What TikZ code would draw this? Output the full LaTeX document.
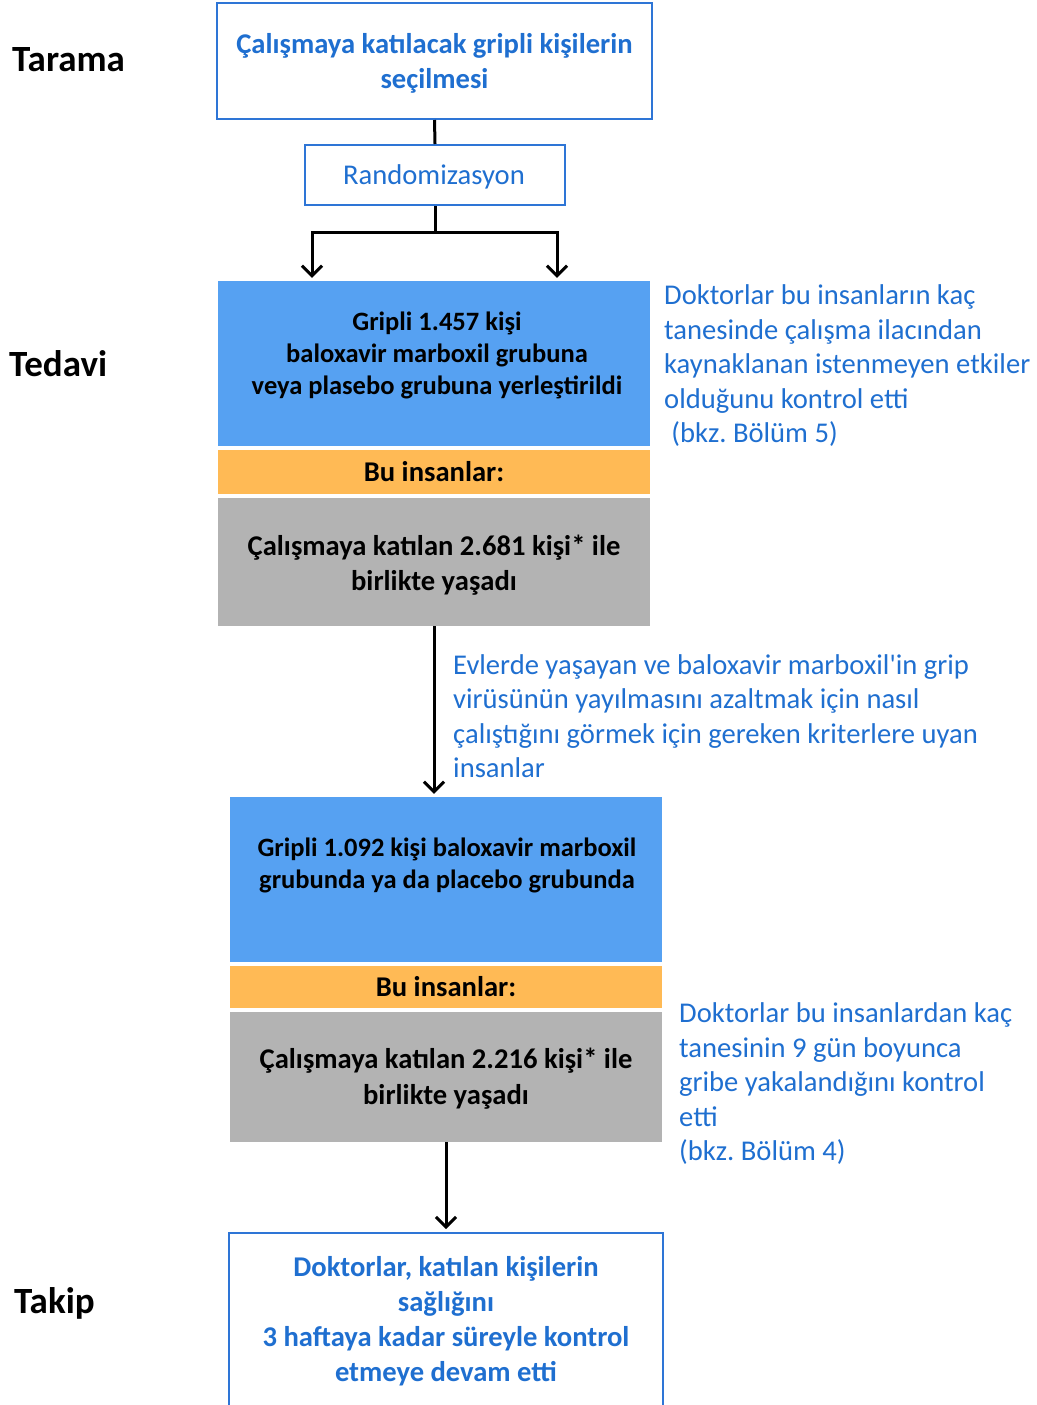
\documentclass[tikz,border=0pt]{standalone}
\usepackage{fontspec}
\setmainfont{Carlito}[Ligatures=TeXOff]
\usetikzlibrary{arrows.meta}
\definecolor{bluetxt}{HTML}{1F6FD0}
\definecolor{blueline}{HTML}{2E75D6}
\definecolor{bluefill}{HTML}{56A1F2}
\definecolor{orangefill}{HTML}{FFBA55}
\definecolor{grayfill}{HTML}{B3B3B3}
\frenchspacing
\begin{document}
\begin{tikzpicture}[x=1pt,y=-1pt,
  obox/.style={draw=blueline, line width=2pt, fill=white, inner sep=0pt},
  fbox/.style={draw=none, inner sep=0pt},
  ttxt/.style={inner sep=0pt, align=center},
  btxt/.style={ttxt, font=\fontsize{26.5}{32}\selectfont\bfseries},
  lbl/.style={inner sep=0pt, anchor=west, font=\fontsize{37}{44}\selectfont\bfseries},
  note/.style={inner sep=0pt, anchor=west, align=left, text=bluetxt, font=\fontsize{28.6}{34.5}\selectfont},
  conn/.style={line width=3pt, black},
  arr/.style={conn, -{Straight Barb[length=10pt,width=20pt,line width=3pt]}, shorten >=3pt}]
\useasboundingbox (0,0) rectangle (1036,1405);
% phase labels
\node[lbl] (tarama) at (12,60) {Tarama};
\node[lbl] (tedavi) at (9,364) {Tedavi};
\node[lbl] (takip) at (14,1303) {Takip};
% top boxes
\node[obox, minimum width=435pt, minimum height=116pt] (scr) at (434.5,61) {};
\node[ttxt, text=bluetxt, font=\fontsize{28.6}{35}\selectfont\bfseries] (scrt) at (434.5,63) {Çalışmaya katılacak gripli kişilerin\\seçilmesi};
\node[obox, minimum width=260pt, minimum height=60pt] (rand) at (435,175) {};
\node[ttxt, text=bluetxt, font=\fontsize{28.6}{35}\selectfont] (randt) at (434,177) {Randomizasyon};
% first group
\node[fbox, fill=bluefill, minimum width=432pt, minimum height=165pt] (b1) at (434,363.5) {};
\node[btxt] (t1) at (437,355) {Gripli 1.457 kişi\\baloxavir marboxil grubuna\\veya plasebo grubuna yerleştirildi};
\node[fbox, fill=orangefill, minimum width=432pt, minimum height=44pt] (o1) at (434,472) {};
\node[ttxt, font=\fontsize{28.6}{35}\selectfont\bfseries] (o1t) at (434,472) {Bu insanlar:};
\node[fbox, fill=grayfill, minimum width=432pt, minimum height=128pt] (g1) at (434,562) {};
\node[ttxt, font=\fontsize{28.6}{35}\selectfont\bfseries] (g1t) at (434,565) {Çalışmaya katılan 2.681 kişi* ile\\birlikte yaşadı};
% second group
\node[fbox, fill=bluefill, minimum width=432pt, minimum height=165pt] (b2) at (446,879.5) {};
\node[btxt] (t2) at (447,865) {Gripli 1.092 kişi baloxavir marboxil\\grubunda ya da placebo grubunda};
\node[fbox, fill=orangefill, minimum width=432pt, minimum height=42pt] (o2) at (446,987) {};
\node[ttxt, font=\fontsize{28.6}{35}\selectfont\bfseries] (o2t) at (446,987) {Bu insanlar:};
\node[fbox, fill=grayfill, minimum width=432pt, minimum height=130pt] (g2) at (446,1077) {};
\node[ttxt, font=\fontsize{28.6}{36}\selectfont\bfseries] (g2t) at (446,1079) {Çalışmaya katılan 2.216 kişi* ile\\birlikte yaşadı};
% final box
\node[obox, minimum width=434pt, minimum height=174pt] (fin) at (446,1320) {};
\node[ttxt, text=bluetxt, font=\fontsize{28.6}{35}\selectfont\bfseries] (fint) at (446,1321.5) {Doktorlar, katılan kişilerin\\sağlığını\\3 haftaya kadar süreyle kontrol\\etmeye devam etti};
% notes
\node[note] (n1) at (664,366) {Doktorlar bu insanların kaç\\tanesinde çalışma ilacından\\kaynaklanan istenmeyen etkiler\\olduğunu kontrol etti\\\hspace*{0.25em}(bkz. Bölüm 5)};
\node[note] (n2) at (453,716) {Evlerde yaşayan ve baloxavir marboxil'in grip\\virüsünün yayılmasını azaltmak için nasıl\\çalıştığını görmek için gereken kriterlere uyan\\insanlar};
\node[note] (n3) at (679,1084) {Doktorlar bu insanlardan kaç\\tanesinin 9 gün boyunca\\gribe yakalandığını kontrol\\etti\\(bkz. Bölüm 4)};
% connectors
\draw[conn] (scr.south) -- (rand.north);
\draw[arr] (rand.south) |- ++(0,26) -| ([xshift=-122pt]b1.north);
\draw[arr] (rand.south) |- ++(0,26) -| ([xshift=123pt]b1.north);
\draw[arr] (g1.south) -- (g1.south |- b2.north);
\draw[arr] (g2.south) -- (fin.north);
\end{tikzpicture}
\end{document}
